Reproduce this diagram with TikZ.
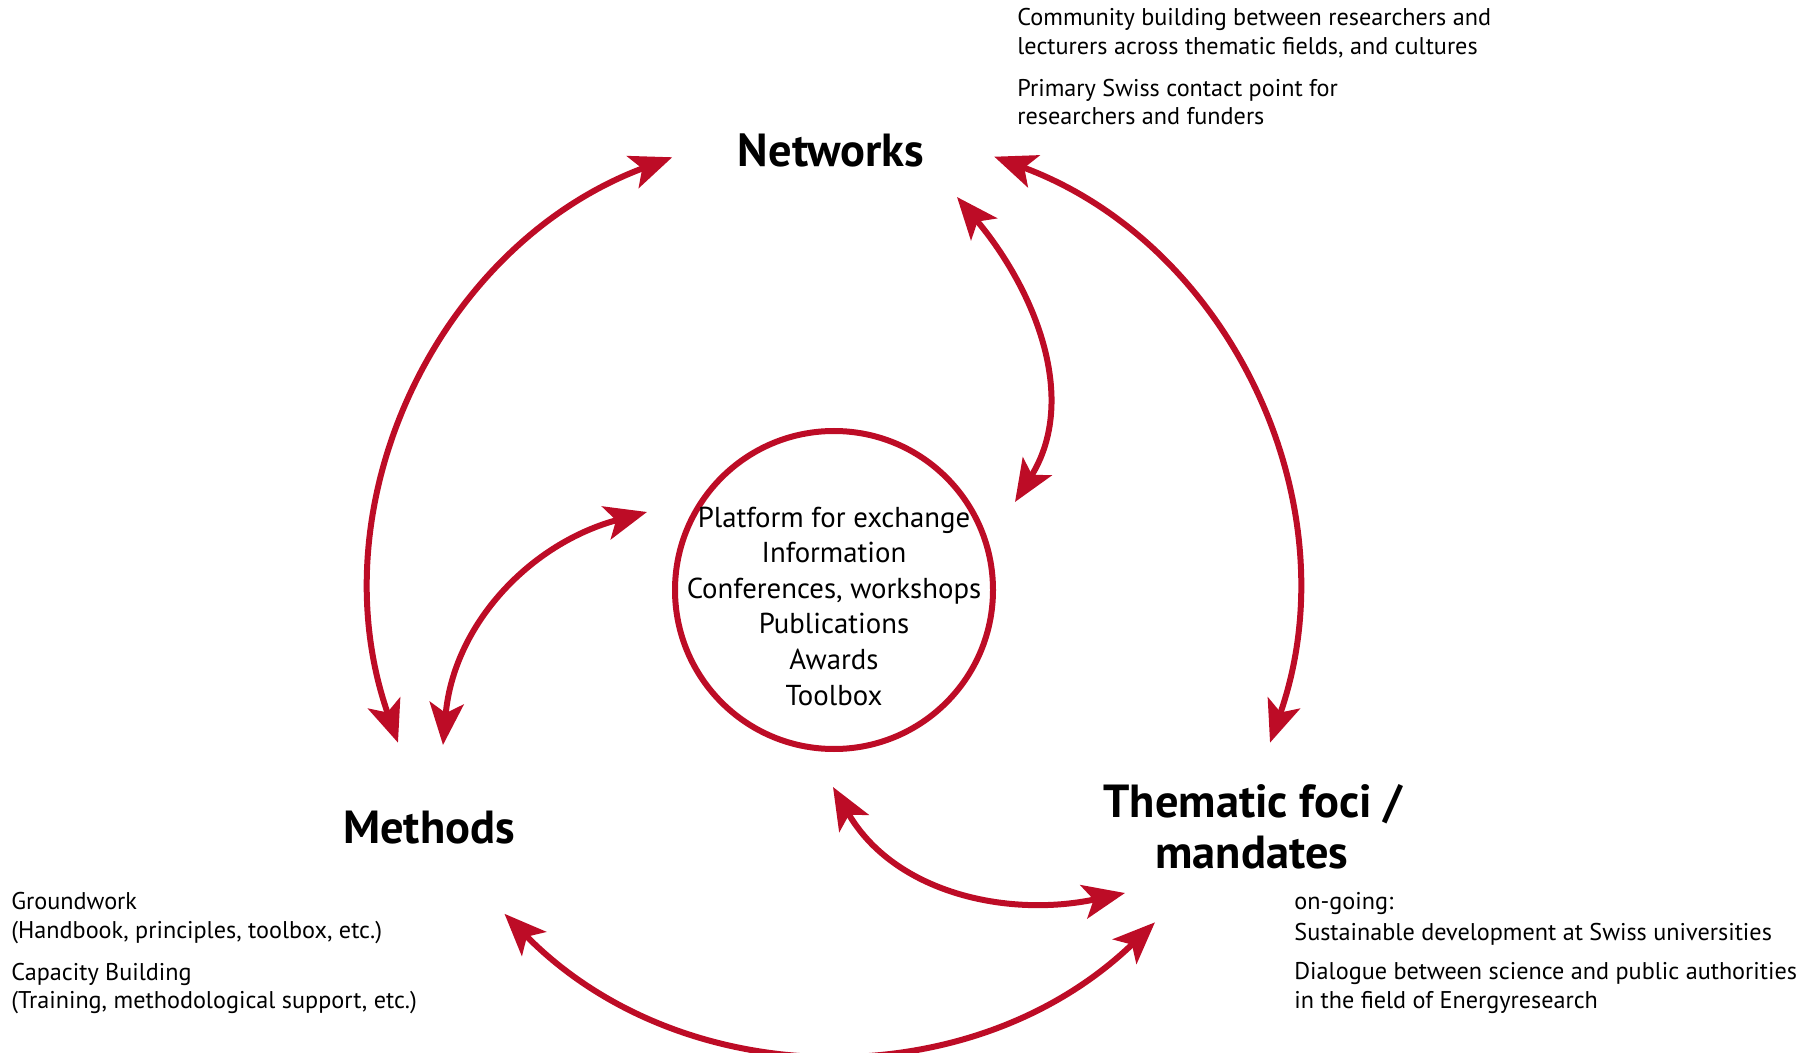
\documentclass[tikz,border=0pt]{standalone}
\usepackage{fontspec}
\setmainfont{PT Sans}
\usetikzlibrary{arrows.meta,calc}
\definecolor{arrred}{RGB}{189,12,38}
\begin{document}
\begin{tikzpicture}[x=0.5pt,y=0.5pt,
  tipA/.tip={Stealth[length=21pt,width=17pt,inset=5pt]},
  conn/.style={draw=arrred,line width=3pt,tipA-tipA},
  title/.style={font=\bfseries\fontsize{23.2}{27}\selectfont,anchor=base,inner sep=0pt},
  circtext/.style={font=\fontsize{14.4}{17}\selectfont,anchor=base,inner sep=0pt},
  note/.style={font=\fontsize{12.1}{14}\selectfont,anchor=base west,inner sep=0pt}]
\useasboundingbox (0,0) rectangle (1810,-1053);
\coordinate (C) at (834,-590);
\node[draw=arrred,line width=3pt,circle,minimum size=159pt,inner sep=0pt] (hub) at (C) {};
\foreach \t [count=\i] in {Platform for exchange,Information,{Conferences, workshops},Publications,Awards,Toolbox}
  \node[circtext] (ct\i) at (834,{-527-35.6*(\i-1)}) {\t};

% titles
\node[title] (net) at (831,-167) {Networks};
\node[title] (meth) at (429,-843) {Methods};
\node[title] (them1) at (1253,-817) {Thematic foci /};
\node[title] (them2) at (1252,-868) {mandates};

% notes top right
\node[note] (n1) at (1017,-26) {Community building between researchers and};
\node[note] (n2) at (1017,-55) {lecturers across thematic fields, and cultures};
\node[note] (n3) at (1017,-97) {Primary Swiss contact point for};
\node[note] (n4) at (1017,-125) {researchers and funders};
% notes bottom left
\node[note] (m1) at (11,-909) {Groundwork};
\node[note] (m2) at (11,-938) {(Handbook, principles, toolbox, etc.)};
\node[note] (m3) at (11,-980) {Capacity Building};
\node[note] (m4) at (11,-1008) {(Training, methodological support, etc.)};
% notes bottom right
\node[note] (t1) at (1294,-909) {on-going:};
\node[note] (t2) at (1294,-940) {Sustainable development at Swiss universities};
\node[note] (t3) at (1294,-979) {Dialogue between science and public authorities};
\node[note] (t4) at (1294,-1008) {in the field of Energyresearch};

% big outer arcs
\coordinate (nwL) at ($(C)+(110.5:462)$);
\coordinate (nwR) at ($(C)+(69.7:462)$);
\coordinate (mtB) at ($(C)+(224.5:462)$);
\draw[conn] (nwL) arc[start angle=110.5,end angle=199.3,radius=462];
\draw[conn] (nwR) arc[start angle=69.7,end angle=-19.3,radius=462];
\draw[conn] (mtB) arc[start angle=224.5,end angle=314,radius=462];

% inner arcs
\coordinate (a1) at (957,-197);
\coordinate (a2) at (1015,-502);
\draw[conn] (a1) to[out=-50,in=58,looseness=1.0] (a2);
\coordinate (b1) at (443,-745);
\coordinate (b2) at (647,-512);
\draw[conn] (b1) to[out=85,in=195] (b2);
\coordinate (c1) at (833,-787);
\coordinate (c2) at (1125,-893);
\draw[conn] (c1) to[out=300,in=192] (c2);
\end{tikzpicture}
\end{document}
